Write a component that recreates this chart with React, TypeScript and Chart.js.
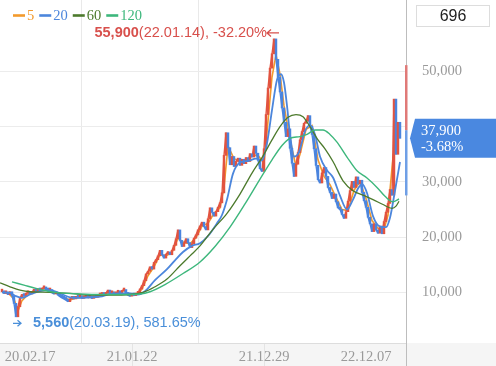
import { useEffect, useRef } from 'react';
import { Chart, registerables } from 'chart.js';

Chart.register(...registerables);

// ---- data ----
const FIRST_OPEN = 10100;
// daily closes (sampled), oldest -> newest
const CLOSES = [
  10200, 9800, 10000, 9600, 10100, 9400, 8000, 5560, 7400, 9000,
  9600, 9300, 9800, 10000, 9700, 10100, 10400, 10200, 10500, 10300,
  10700, 10900, 10500, 10300, 10500, 9900, 9700, 10000, 9500, 9200,
  9000, 8800, 8600, 8300, 8800, 9000, 8800, 9200, 9000, 9300,
  8900, 9100, 9400, 9000, 9200, 8900, 9200, 9100, 9400, 9500,
  9800, 9500, 9900, 10400, 9800, 10000, 9600, 9900, 10100, 9800,
  10300, 10500, 9700, 9500, 9300, 9600, 9400, 9700, 9900, 10600,
  11200, 12100, 13300, 13800, 14600, 14200, 15400, 15900, 16600, 17600,
  16800, 16200, 16900, 17300, 16800, 17600, 18500, 19700, 21300, 19400,
  18300, 18900, 19700, 19000, 18100, 18800, 19800, 20400, 21300, 22000,
  22700, 21900, 21300, 23300, 25300, 24500, 23800, 24600, 25400, 26200,
  28000, 34800, 38900, 36200, 33100, 34600, 32800, 33700, 34300, 33000,
  34100, 33300, 34400, 33700, 35100, 34500, 36500, 35200, 33900, 32400,
  31900, 36000, 42200, 47000, 50600, 53200, 55900, 52200, 49000, 46300,
  43400, 40800, 38200, 39600, 36100, 33400, 31000, 33200, 35300, 37600,
  39100, 40600, 41000, 42000, 40100, 38600, 36000, 33000, 30400, 29800,
  31600, 32600, 31000, 29000, 28100, 27000, 27800, 26400, 25300, 25000,
  24100, 23400, 24600, 26500, 28400, 30100, 29000, 30900, 29600, 30300,
  28100, 26600, 25400, 23600, 22400, 21000, 22400, 21300, 20700, 22000,
  20600, 22800, 24500, 26100, 28600, 27600, 45000, 35000, 40800, 37900,
];

// moving averages: [session index, value]
const MA5 = [
  [0, 10000], [3, 9900], [6, 8800], [8, 6600], [10, 8500], [13, 9600], [16, 10100], [19, 10400],
  [22, 10700], [25, 10200], [28, 9800], [31, 9000], [34, 8600], [37, 9000], [40, 9100], [43, 9200],
  [46, 9100], [49, 9300], [52, 9700], [55, 10000], [58, 9900], [61, 10300], [64, 9500], [67, 9500],
  [70, 10600], [73, 13000], [76, 14600], [79, 16800], [82, 16600], [85, 17200], [88, 19800], [91, 19000],
  [94, 18800], [97, 19900], [100, 22000], [103, 22500], [106, 24300], [109, 25300], [111, 29000], [113, 36500],
  [116, 34200], [119, 33700], [122, 33800], [125, 34800], [128, 34800], [131, 33400], [133, 41000], [135, 49000],
  [137, 53000], [139, 49500], [141, 43800], [143, 39800], [145, 36000], [147, 32800], [149, 35000], [152, 39500],
  [155, 40200], [158, 34000], [161, 31000], [164, 29500], [167, 27200], [170, 25000], [173, 24800], [176, 28500],
  [179, 30000], [182, 27000], [185, 23000], [188, 21600], [191, 21400], [193, 24000], [194, 28500], [195.5, 34500],
  [197, 37500], [199, 38800],
];
const MA20 = [
  [0, 10000], [4, 9900], [7, 9300], [10, 9000], [14, 9600], [19, 10200], [24, 10400], [29, 9800],
  [34, 9100], [39, 9000], [44, 9100], [49, 9200], [54, 9700], [59, 9800], [64, 9800], [68, 9600],
  [71.5, 10200], [76.5, 12200], [82.5, 14200], [86.5, 15800], [90.5, 17300], [95, 18400], [99, 18900], [103, 20200],
  [107.5, 22500], [110, 24000], [112.5, 26800], [115.5, 31500], [119, 33500], [123, 33800], [127, 34200], [130, 33900],
  [132.5, 37000], [135, 43000], [137.5, 48500], [139.5, 49500], [141, 48000], [142.5, 43800], [144, 38600], [146, 34600],
  [148.5, 35400], [151.5, 39200], [154, 40300], [156.5, 38600], [159, 34600], [162.5, 32100], [165.5, 30800], [169, 27500],
  [172.5, 25000], [175.5, 26800], [178, 28800], [180, 29600], [182.5, 28000], [185.5, 23800], [189, 21900], [192, 21800],
  [194, 23500], [196.5, 28400], [199, 33600],
];
const MA60 = [
  [-1, 11700], [4, 11000], [9, 10400], [14, 10100], [24, 10000], [34, 9800], [44, 9500], [54, 9500],
  [64, 9600], [70.5, 10000], [76.5, 11000], [82.5, 12400], [89, 14800], [94, 16600], [99, 18400], [105.5, 21400],
  [112.5, 24300], [119, 27800], [125, 31600], [130, 34400], [135, 37600], [139, 40000], [143, 41700], [147, 42200],
  [150.5, 41800], [154, 40000], [158, 37600], [161.5, 36000], [165.5, 33700], [170.5, 30200], [175.5, 28400], [180.5, 27600],
  [185.5, 26800], [190.5, 25900], [195, 25200], [197, 25600], [198.5, 26500],
];
const MA120 = [
  [5, 11900], [11, 11300], [17, 10700], [23, 10200], [29, 9900], [39, 9700], [49, 9600], [59, 9600],
  [69, 9700], [74, 10100], [81.5, 11400], [90.5, 13400], [99, 15500], [106.5, 18300], [114, 21800], [121.5, 26000],
  [129, 30500], [135, 34000], [140, 36600], [144, 37900], [149, 38200], [152.5, 38600], [156.5, 39400], [160.5, 39400],
  [164, 38600], [167.5, 37200], [172.5, 34500], [177.5, 32000], [182.5, 30700], [187.5, 29000], [191.5, 27400], [195.5, 26400],
  [198.5, 26900],
];

const DATE_TICKS = [14, 65, 131, 182];
const DATE_LABELS = ['20.02.17', '21.01.22', '21.12.29', '22.12.07'];
const Y_TICKS = [10000, 20000, 30000, 40000, 50000];
const MA_LABELS = ['5', '20', '60', '120'];

const HIGH = { value: 55900, date: '22.01.14', change: '-32.20%' };
const LOW = { value: 5560, date: '20.03.19', change: '581.65%' };
const PREV_CLOSE = 39350;
const LIMIT_UP = 51150;
const LIMIT_DOWN = 27550;
const CHANGE_TEXT = '-3.68%';
const COUNT = 696;

// ---- styles ----
const RED = '#e2533f';
const BLUE = '#4a84de';
const C_MA5 = '#f39a2c';
const C_MA20 = '#4c86dc';
const C_MA60 = '#4c7a2c';
const C_MA120 = '#3db77c';
const SERIF = 'Liberation Serif';
const SANS = 'Liberation Sans';

const fmt = (v: number) => v.toLocaleString('en-US');

const overlay = {
  id: 'overlay',
  beforeDraw(chart: any) {
    const { ctx, width, height, chartArea } = chart;
    ctx.save();
    ctx.fillStyle = '#ffffff';
    ctx.fillRect(0, 0, width, height);
    ctx.fillStyle = '#f5f5f5';
    ctx.fillRect(0, chartArea.bottom, width, height - chartArea.bottom);
    // grid extensions in the date band
    const xs = chart.scales.x;
    ctx.strokeStyle = '#e4e4e4';
    ctx.lineWidth = 1;
    [DATE_TICKS[1], DATE_TICKS[2]].forEach((t) => {
      const px = Math.round(xs.getPixelForValue(t)) + 0.5;
      ctx.beginPath();
      ctx.moveTo(px, chartArea.bottom);
      ctx.lineTo(px, height);
      ctx.stroke();
    });
    ctx.restore();
  },
  afterDraw(chart: any) {
    const { ctx, width, height, chartArea: ca } = chart;
    const xs = chart.scales.x;
    const ys = chart.scales.y;
    ctx.save();

    // right border full height
    ctx.strokeStyle = '#bdbdbd';
    ctx.lineWidth = 1;
    ctx.beginPath();
    ctx.moveTo(ca.right + 0.5, 0);
    ctx.lineTo(ca.right + 0.5, height);
    ctx.stroke();

    // price limit bars
    const yPrev = ys.getPixelForValue(PREV_CLOSE);
    const yUp = ys.getPixelForValue(LIMIT_UP);
    const yDn = ys.getPixelForValue(LIMIT_DOWN);
    ctx.fillStyle = '#e07a78';
    ctx.fillRect(ca.right - 1, yUp, 2.5, yPrev - yUp);
    ctx.fillStyle = '#6f9fe6';
    ctx.fillRect(ca.right - 1, yPrev, 2.5, yDn - yPrev);

    // current price tag
    const last = CLOSES[CLOSES.length - 1];
    const yc = ys.getPixelForValue(last);
    ctx.fillStyle = '#4a88e0';
    ctx.beginPath();
    ctx.moveTo(ca.right + 4, yc);
    ctx.lineTo(ca.right + 9, yc - 19.5);
    ctx.lineTo(width, yc - 19.5);
    ctx.lineTo(width, yc + 19.5);
    ctx.lineTo(ca.right + 9, yc + 19.5);
    ctx.closePath();
    ctx.fill();
    ctx.fillStyle = '#ffffff';
    ctx.font = `14.5px "${SERIF}"`;
    ctx.textBaseline = 'middle';
    ctx.textAlign = 'left';
    ctx.fillText(fmt(last), ca.right + 15, yc - 7.5);
    ctx.fillText(CHANGE_TEXT, ca.right + 15, yc + 9);

    // count box
    ctx.fillStyle = '#ffffff';
    ctx.fillRect(ca.right + 10, 5, 74, 22);
    ctx.strokeStyle = '#dddddd';
    ctx.strokeRect(ca.right + 10.5, 5.5, 73, 21);
    ctx.fillStyle = '#222222';
    ctx.font = `16px "${SANS}"`;
    ctx.textAlign = 'center';
    ctx.fillText(String(COUNT), ca.right + 47, 16.5);

    // legend
    const legendColors = [C_MA5, C_MA20, C_MA60, C_MA120];
    ctx.font = `14.5px "${SERIF}"`;
    ctx.textAlign = 'left';
    let lx = 13;
    MA_LABELS.forEach((lab, i) => {
      ctx.strokeStyle = legendColors[i];
      ctx.lineWidth = 2.6;
      ctx.beginPath();
      ctx.moveTo(lx, 15.5);
      ctx.lineTo(lx + 12, 15.5);
      ctx.stroke();
      ctx.fillStyle = legendColors[i];
      ctx.fillText(lab, lx + 14, 16.5);
      lx += 14 + ctx.measureText(lab).width + 5;
    });

    // high annotation
    const hiIdx = CLOSES.indexOf(Math.max(...CLOSES));
    const hx = xs.getPixelForValue(hiIdx);
    const hy = ys.getPixelForValue(HIGH.value) - 6;
    const redText = '#d8504c';
    ctx.fillStyle = redText;
    ctx.strokeStyle = redText;
    ctx.lineWidth = 1.3;
    ctx.font = `bold 14.5px "${SANS}"`;
    const hb = fmt(HIGH.value);
    const wb = ctx.measureText(hb).width;
    ctx.font = `14.5px "${SANS}"`;
    const hr = `(${HIGH.date}), ${HIGH.change}`;
    const wr = ctx.measureText(hr).width;
    const hEnd = hx - 7;
    ctx.font = `bold 14.5px "${SANS}"`;
    ctx.fillText(hb, hEnd - wr - wb, hy);
    ctx.font = `14.5px "${SANS}"`;
    ctx.fillText(hr, hEnd - wr, hy);
    ctx.beginPath();
    ctx.moveTo(hEnd, hy);
    ctx.lineTo(hx + 5, hy);
    ctx.moveTo(hEnd + 4, hy - 3.5);
    ctx.lineTo(hEnd, hy);
    ctx.lineTo(hEnd + 4, hy + 3.5);
    ctx.stroke();

    // low annotation
    const loIdx = CLOSES.indexOf(Math.min(...CLOSES));
    const lxp = xs.getPixelForValue(loIdx);
    const lyp = ys.getPixelForValue(LOW.value) + 6.5;
    const blueText = '#4a8fd9';
    ctx.fillStyle = blueText;
    ctx.strokeStyle = blueText;
    ctx.beginPath();
    ctx.moveTo(lxp - 3, lyp);
    ctx.lineTo(lxp + 5, lyp);
    ctx.moveTo(lxp + 1.5, lyp - 3);
    ctx.lineTo(lxp + 5, lyp);
    ctx.lineTo(lxp + 1.5, lyp + 3);
    ctx.stroke();
    ctx.font = `bold 14.5px "${SANS}"`;
    const lb = fmt(LOW.value);
    const lbw = ctx.measureText(lb).width;
    ctx.fillText(lb, lxp + 17, lyp);
    ctx.font = `14.5px "${SANS}"`;
    ctx.fillText(`(${LOW.date}), ${LOW.change}`, lxp + 17 + lbw, lyp);

    ctx.restore();
  },
};

export default function App() {
  const ref = useRef<HTMLCanvasElement>(null);

  useEffect(() => {
    document.body.style.margin = '0';
    const canvas = ref.current;
    if (!canvas) return;

    const prevOf = (i: number) => (i === 0 ? FIRST_OPEN : CLOSES[i - 1]);
    const candles = CLOSES.map((c, i) => ({ x: i, y: [Math.min(prevOf(i), c), Math.max(prevOf(i), c)] }));
    const candleColors = CLOSES.map((c, i) => (c >= prevOf(i) ? RED : BLUE));
    const closePts = CLOSES.map((c, i) => ({ x: i, y: c }));
    const pts = (arr: number[][]) => arr.map(([x, y]) => ({ x, y }));
    const lineBase = { type: 'line' as const, pointRadius: 0, fill: false, cubicInterpolationMode: 'monotone' as const };

    const chart = new Chart(canvas, {
      type: 'bar',
      data: {
        datasets: [
          { ...lineBase, label: '5', data: pts(MA5), borderColor: C_MA5, borderWidth: 1.6, order: 6, cubicInterpolationMode: 'default', tension: 0 } as any,
          {
            type: 'line',
            label: 'close',
            data: closePts,
            pointRadius: 0,
            borderWidth: 1.4,
            tension: 0,
            order: 5,
            borderColor: RED,
            segment: {
              borderColor: (c: any) => (c.p1.parsed.y >= c.p0.parsed.y ? RED : BLUE),
            },
          } as any,
          {
            type: 'bar',
            label: 'candle',
            data: candles as any,
            backgroundColor: candleColors,
            barThickness: 1.8,
            minBarLength: 2.6,
            order: 4,
          } as any,
          { ...lineBase, label: '20', data: pts(MA20), borderColor: C_MA20, borderWidth: 1.8, order: 3 } as any,
          { ...lineBase, label: '60', data: pts(MA60), borderColor: C_MA60, borderWidth: 1.3, order: 2 } as any,
          { ...lineBase, label: '120', data: pts(MA120), borderColor: C_MA120, borderWidth: 1.4, order: 1 } as any,
        ],
      },
      options: {
        animation: false,
        responsive: false,
        maintainAspectRatio: false,
        layout: { padding: 0 },
        plugins: { legend: { display: false }, tooltip: { enabled: false } },
        scales: {
          x: {
            type: 'linear',
            min: -1,
            max: 202,
            offset: false,
            afterBuildTicks: (s: any) => {
              s.ticks = DATE_TICKS.map((v) => ({ value: v }));
            },
            afterFit: (s: any) => {
              s.height = 23;
              s.paddingLeft = 0;
              s.paddingRight = 0;
            },
            ticks: {
              autoSkip: false,
              maxRotation: 0,
              padding: 5,
              color: '#9a9a9a',
              font: { family: SERIF, size: 14.5 },
              callback: (_v: any, i: number) => DATE_LABELS[i],
            },
            grid: {
              drawTicks: false,
              color: (c: any) => (c.index === 1 || c.index === 2 ? '#e9e9e9' : 'rgba(0,0,0,0)'),
            },
            border: { display: true, color: '#dddddd' },
          },
          y: {
            position: 'right',
            min: 815,
            max: 62950,
            afterBuildTicks: (s: any) => {
              s.ticks = Y_TICKS.map((v) => ({ value: v }));
            },
            afterFit: (s: any) => {
              s.width = 90;
              s.paddingTop = 0;
              s.paddingBottom = 0;
            },
            ticks: {
              padding: 16,
              color: '#9a9a9a',
              font: { family: SERIF, size: 14.5 },
              callback: (v: any) => fmt(Number(v)),
            },
            grid: { drawTicks: false, color: '#ececec' },
            border: { display: false },
          },
        },
      },
      plugins: [overlay],
    });

    return () => chart.destroy();
  }, []);

  return <canvas ref={ref} width={496} height={366} style={{ display: 'block' }} />;
}
